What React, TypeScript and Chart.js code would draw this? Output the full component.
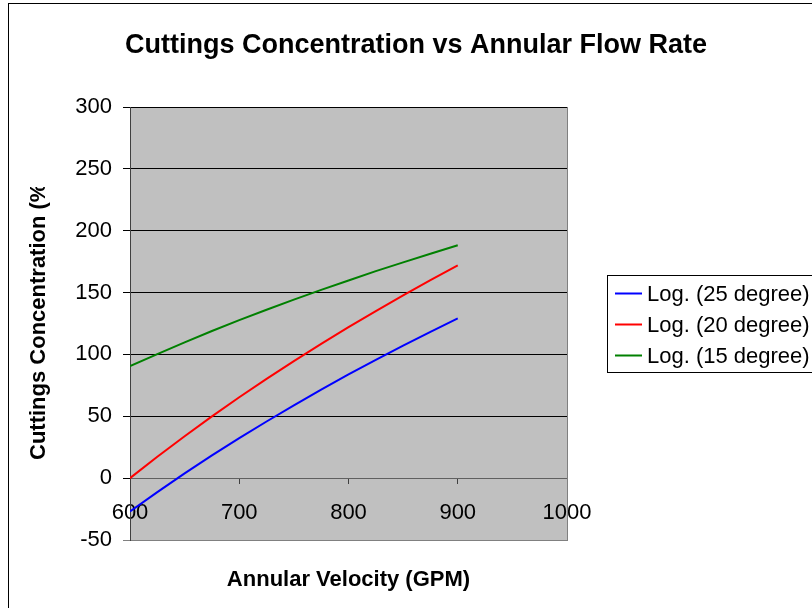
import React, { useEffect, useRef } from "react";
import { Chart, registerables } from "chart.js";

Chart.register(...registerables);

const titleText = "Cuttings Concentration vs Annular Flow Rate";
const xTitle = "Annular Velocity (GPM)";
const yTitle = "Cuttings Concentration (%)";

const xValues = [600, 625, 650, 675, 700, 725, 750, 775, 800, 825, 850, 875, 900];
const log25 = [-27, -11.3, 3.8, 18.4, 32.4, 45.8, 58.9, 71.5, 83.8, 95.6, 107.1, 118.3, 129.1];
const log20 = [0, 17.3, 33.9, 49.9, 65.4, 80.2, 94.6, 108.5, 122.0, 135.0, 147.7, 160.0, 171.9];
const log15 = [90.5, 100.3, 109.8, 118.9, 127.7, 136.1, 144.3, 152.2, 159.8, 167.3, 174.4, 181.4, 188.2];
const seriesLabels = ["Log. (25 degree)", "Log. (20 degree)", "Log. (15 degree)"];
const seriesColors = ["#0000FF", "#FF0000", "#008000"];
const xTickValues = [600, 700, 800, 900, 1000];
const yTickValues = [-50, 0, 50, 100, 150, 200, 250, 300];

const FONT = "'Liberation Sans', Arial, Helvetica, sans-serif";

const decor = {
  id: "decor",
  beforeDraw(chart: any) {
    const { ctx, chartArea: a } = chart;
    ctx.save();
    ctx.fillStyle = "#ffffff";
    ctx.fillRect(0, 0, chart.width, chart.height);
    ctx.strokeStyle = "#000000";
    ctx.lineWidth = 1;
    ctx.strokeRect(8.5, 3.5, chart.width + 20, chart.height + 20);
    ctx.fillStyle = "#C0C0C0";
    ctx.fillRect(a.left, a.top, a.right - a.left, a.bottom - a.top);
    ctx.restore();
  },
  beforeDatasetsDraw(chart: any) {
    const { ctx, chartArea: a } = chart;
    ctx.save();
    ctx.strokeStyle = "#808080";
    ctx.lineWidth = 1;
    ctx.beginPath();
    ctx.moveTo(Math.round(a.right) + 0.5, a.top);
    ctx.lineTo(Math.round(a.right) + 0.5, a.bottom + 1);
    ctx.stroke();
    ctx.restore();
  },
  afterDraw(chart: any) {
    const { ctx, chartArea: a } = chart;
    ctx.save();
    ctx.fillStyle = "#000000";
    // title
    ctx.font = `bold 27px ${FONT}`;
    ctx.textAlign = "center";
    ctx.textBaseline = "alphabetic";
    ctx.fillText(titleText, 416, 53);
    // x title
    ctx.font = `bold 22px ${FONT}`;
    ctx.fillText(xTitle, (a.left + a.right) / 2, 586);
    // y title (clipped like the original)
    ctx.save();
    ctx.beginPath();
    ctx.rect(0, 187, 120, 400);
    ctx.clip();
    ctx.translate(45, 460);
    ctx.rotate(-Math.PI / 2);
    ctx.textAlign = "left";
    ctx.fillText(yTitle, 0, 0);
    ctx.restore();
    // legend
    ctx.strokeStyle = "#000000";
    ctx.lineWidth = 1;
    ctx.strokeRect(607.5, 275.5, 300, 97);
    ctx.font = `22px ${FONT}`;
    ctx.textAlign = "left";
    ctx.textBaseline = "middle";
    chart.data.datasets.forEach((ds: any, i: number) => {
      const y = 293.5 + i * 31;
      ctx.strokeStyle = ds.borderColor;
      ctx.lineWidth = 2;
      ctx.beginPath();
      ctx.moveTo(615, y);
      ctx.lineTo(642, y);
      ctx.stroke();
      ctx.fillStyle = "#000000";
      ctx.fillText(ds.label, 647, y + 1);
    });
    ctx.restore();
  },
};

export default function App() {
  const ref = useRef<HTMLCanvasElement | null>(null);
  useEffect(() => {
    if (!ref.current) return;
    const mk = (vals: number[]) => xValues.map((x, i) => ({ x, y: vals[i] }));
    const chart = new Chart(ref.current, {
      type: "scatter",
      data: {
        datasets: [log25, log20, log15].map((vals, i) => ({
          label: seriesLabels[i],
          data: mk(vals),
          showLine: true,
          borderColor: seriesColors[i],
          backgroundColor: seriesColors[i],
          borderWidth: 2,
          pointRadius: 0,
          tension: 0,
        })),
      },
      options: {
        animation: false,
        responsive: false,
        maintainAspectRatio: false,
        layout: { padding: { left: 70, top: 107, right: 245, bottom: 68 } },
        plugins: {
          legend: { display: false },
          title: { display: false },
          tooltip: { enabled: false },
        },
        scales: {
          x: {
            type: "linear",
            position: { y: 0 } as any,
            min: 600,
            max: 1000,
            afterFit: (s: any) => {
              s.height = 0;
            },
            afterBuildTicks: (s: any) => {
              s.ticks = xTickValues.map((v) => ({ value: v }));
            },
            ticks: {
              color: "#000000",
              font: { family: FONT, size: 22 },
              padding: 17,
              maxRotation: 0,
              autoSkip: false,
              callback: (v: any) => String(v),
            },
            grid: {
              drawOnChartArea: false,
              drawTicks: true,
              tickLength: 5,
              color: "#404040",
            },
            border: { display: true, color: "#606060", width: 1 },
          },
          y: {
            type: "linear",
            min: -50,
            max: 300,
            afterFit: (s: any) => {
              s.width = 60;
            },
            afterBuildTicks: (s: any) => {
              s.ticks = yTickValues.map((v) => ({ value: v }));
            },
            ticks: {
              color: "#000000",
              font: { family: FONT, size: 22 },
              padding: 11,
              autoSkip: false,
              callback: (v: any) => String(v),
            },
            grid: {
              color: (c: any) => (c.tick && c.tick.value === -50 ? "#808080" : "#000000"),
              tickLength: 7,
              drawTicks: true,
            },
            border: { display: true, color: "#404040", width: 1 },
          },
        },
      },
      plugins: [decor],
    });
    return () => chart.destroy();
  }, []);
  return (
    <div style={{ position: "fixed", left: 0, top: 0, width: 812, height: 608 }}>
      <canvas ref={ref} width={812} height={608} style={{ display: "block", width: 812, height: 608 }} />
    </div>
  );
}
